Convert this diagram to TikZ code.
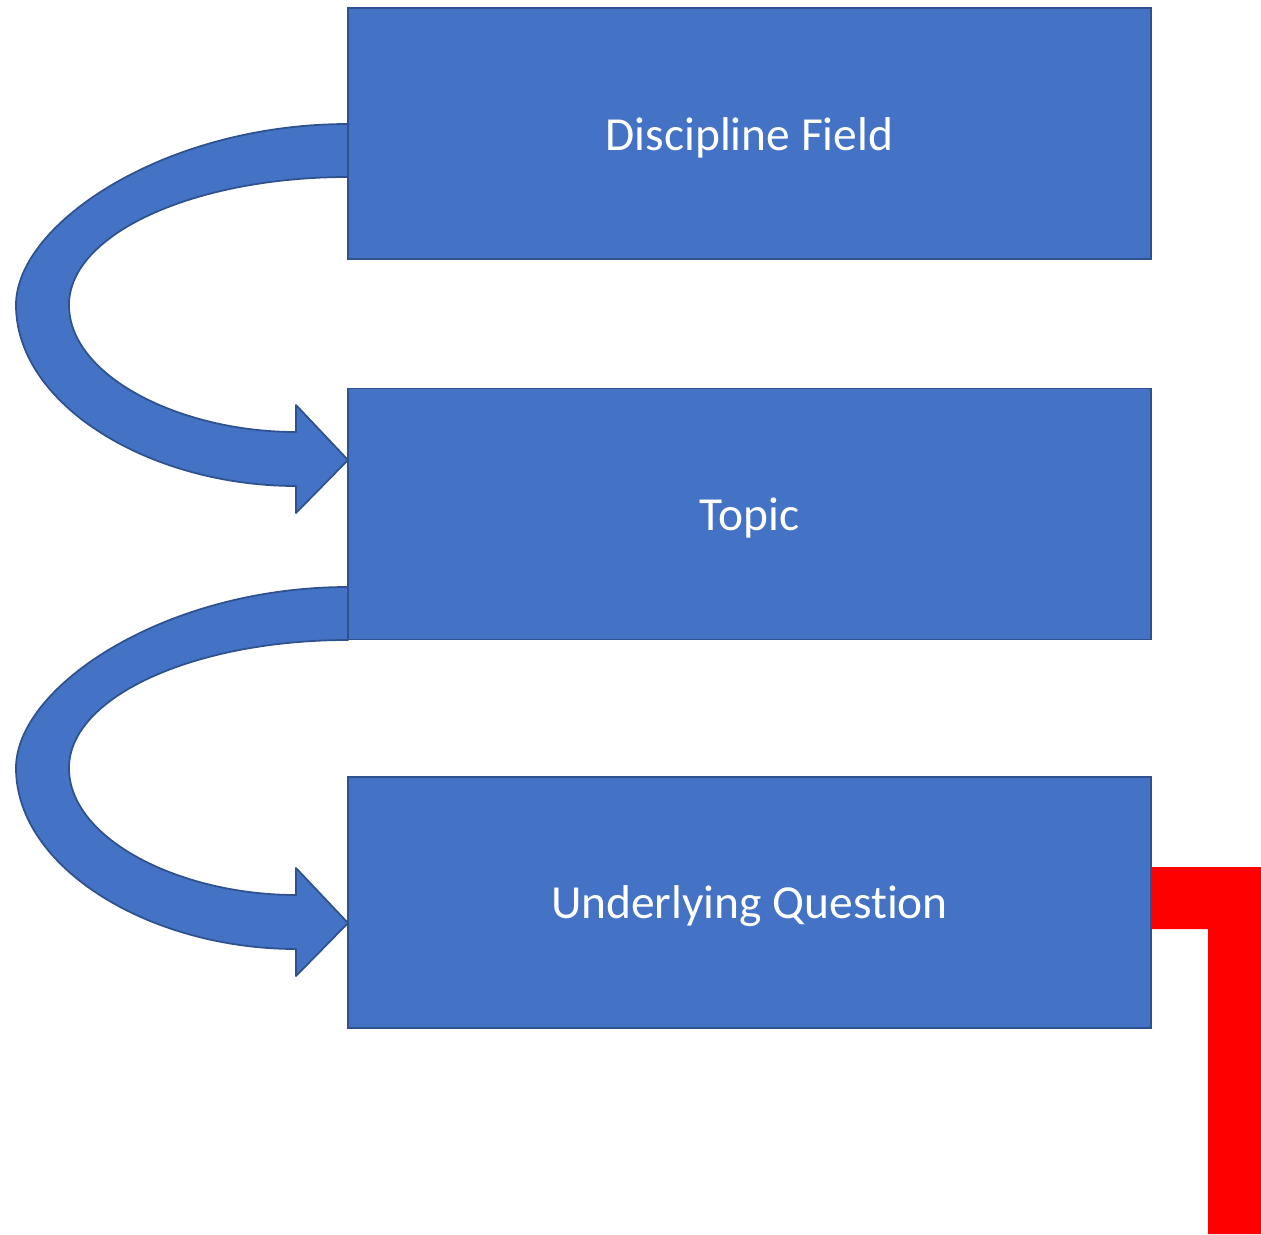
\documentclass[tikz,border=0pt]{standalone}
\usepackage{fontspec}
\setmainfont[Ligatures={NoCommon,NoContextual}]{Carlito}
\definecolor{boxfill}{HTML}{4472C4}
\definecolor{boxline}{HTML}{2F528F}
\definecolor{redbar}{HTML}{FF0000}
\newcommand\boxtext[1]{\raisebox{-2.3pt}[\height][\depth]{#1}}
\begin{document}
\begin{tikzpicture}[x=0.02cm,y=-0.02cm,
  stagebox/.style={draw=boxline,line width=1pt,fill=boxfill,text=white,
    minimum width=16.06cm,minimum height=5.02cm,inner sep=0pt,
    font=\fontsize{27}{32}\selectfont},
  uarrow/.pic={
    \fill[boxfill,draw=boxline,line width=1pt,line join=round]
      (0,0) .. controls (-183.4,0) and (-332,100) .. (-332,181)
      .. controls (-332,281) and (-198,362) .. (-52,362)
      -- (-52,389) -- (0,336) -- (-52,281) -- (-52,308)
      .. controls (-168,308) and (-279,252) .. (-279,181)
      .. controls (-279,110) and (-154,53) .. (0,53) -- cycle;
  }]
\useasboundingbox (0,0) rectangle (1261,1234);
% red bracket
\fill[redbar] (1149,867) -- (1261,867) -- (1261,1234) -- (1208,1234)
  -- (1208,929) -- (1149,929) -- cycle;
% curved arrows
\pic at (348,124) {uarrow};
\pic at (348,587) {uarrow};
% boxes
\node[stagebox] (b1) at (749.5,133.5) {\boxtext{Discipline Field}};
\node[stagebox] (b2) at (749.5,514) {\boxtext{Topic}};
\node[stagebox] (b3) at (749.5,902.5) {\boxtext{Underlying Quest{}ion}};
\end{tikzpicture}
\end{document}
